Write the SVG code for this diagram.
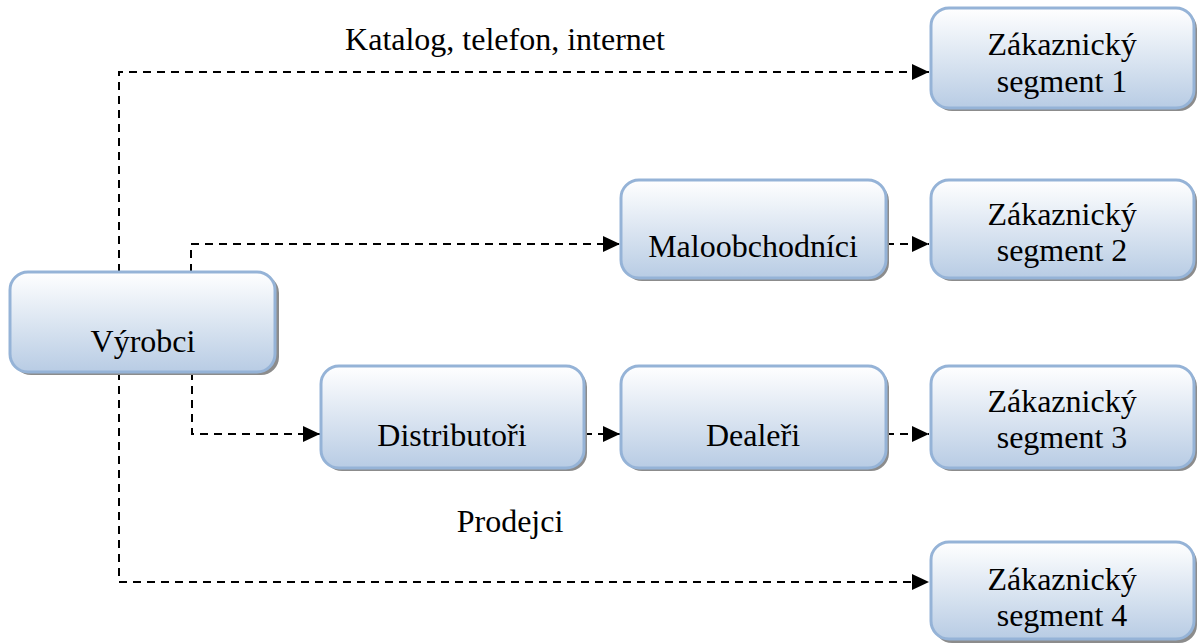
<svg xmlns="http://www.w3.org/2000/svg" width="1197" height="643" viewBox="0 0 1197 643">
<defs>
<linearGradient id="g" x1="0" y1="0" x2="0" y2="1">
<stop offset="0" stop-color="#ffffff"/>
<stop offset="1" stop-color="#b8cce4"/>
</linearGradient>
<marker id="ah" markerWidth="18" markerHeight="16" refX="17" refY="8" orient="auto" markerUnits="userSpaceOnUse">
<path d="M0,0 L17,8 L0,16 Z" fill="#000"/>
</marker>
</defs>
<style>
.sh{fill:#8c8c8c;}
.bx{fill:url(#g);stroke:#95b3d7;stroke-width:3;}
.t{font-family:"Liberation Serif","Times New Roman",serif;font-size:32px;fill:#000;text-anchor:middle;}
.c{fill:none;stroke:#000;stroke-width:2;stroke-dasharray:8 6;}
</style>
<g id="connectors">
<path class="c" d="M119,272 V72 H929" marker-end="url(#ah)"/>
<path class="c" d="M191,272 V244 H620" marker-end="url(#ah)"/>
<path class="c" d="M886,244 H929" marker-end="url(#ah)"/>
<path class="c" d="M119,372 V582 H929" marker-end="url(#ah)"/>
<path class="c" d="M192,372 V434 H320" marker-end="url(#ah)"/>
<path class="c" d="M584,434 H620" marker-end="url(#ah)"/>
<path class="c" d="M886,434 H929" marker-end="url(#ah)"/>
</g>
<g id="label-katalog"><text class="t" x="505" y="50">Katalog, telefon, internet</text></g>
<g id="label-prodejci"><text class="t" x="510" y="532">Prodejci</text></g>
<g id="vyrobci">
<rect class="sh" x="13" y="275" width="266" height="100" rx="18"/>
<rect class="bx" x="10" y="272" width="265" height="100" rx="18"/>
<text class="t" x="143" y="352">Výrobci</text>
</g>
<g id="maloobchodnici">
<rect class="sh" x="624" y="183" width="265" height="98" rx="18"/>
<rect class="bx" x="621" y="180" width="265" height="98" rx="18"/>
<text class="t" x="753" y="257">Maloobchodníci</text>
</g>
<g id="distributori">
<rect class="sh" x="324" y="369" width="263" height="102" rx="18"/>
<rect class="bx" x="321" y="366" width="263" height="102" rx="18"/>
<text class="t" x="452" y="446">Distributoři</text>
</g>
<g id="dealeri">
<rect class="sh" x="624" y="369" width="265" height="102" rx="18"/>
<rect class="bx" x="621" y="366" width="265" height="102" rx="18"/>
<text class="t" x="753" y="446">Dealeři</text>
</g>
<g id="segment1">
<rect class="sh" x="934" y="11" width="263" height="100" rx="18"/>
<rect class="bx" x="931" y="8" width="263" height="100" rx="18"/>
<text class="t" x="1062" y="55">Zákaznický</text>
<text class="t" x="1062" y="92">segment 1</text>
</g>
<g id="segment2">
<rect class="sh" x="934" y="183" width="263" height="98" rx="18"/>
<rect class="bx" x="931" y="180" width="263" height="98" rx="18"/>
<text class="t" x="1062" y="225">Zákaznický</text>
<text class="t" x="1062" y="261">segment 2</text>
</g>
<g id="segment3">
<rect class="sh" x="934" y="369" width="263" height="102" rx="18"/>
<rect class="bx" x="931" y="366" width="263" height="102" rx="18"/>
<text class="t" x="1062" y="412">Zákaznický</text>
<text class="t" x="1062" y="448">segment 3</text>
</g>
<g id="segment4">
<rect class="sh" x="934" y="545" width="263" height="98" rx="18"/>
<rect class="bx" x="931" y="542" width="263" height="97" rx="18"/>
<text class="t" x="1062" y="590">Zákaznický</text>
<text class="t" x="1062" y="626">segment 4</text>
</g>
</svg>
